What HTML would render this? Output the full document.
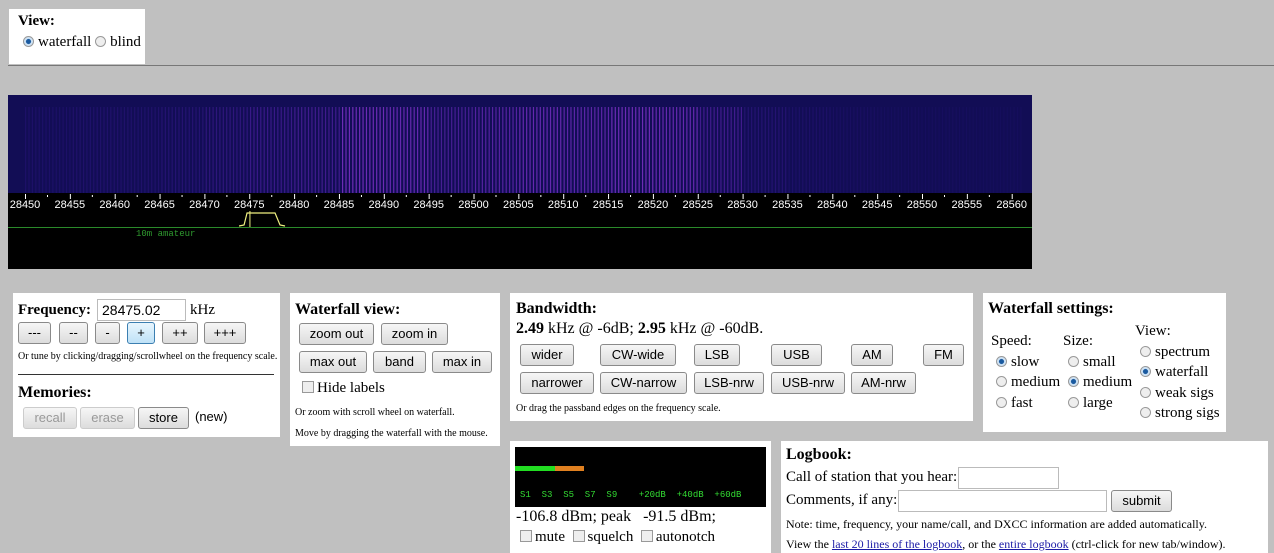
<!DOCTYPE html>
<html><head><meta charset="utf-8">
<style>
body{margin:0;width:1274px;height:553px;background:#c0c0c0;font-family:"Liberation Serif",serif;font-size:15px;color:#000;position:relative;overflow:hidden}
.p{position:absolute;background:#fff;box-sizing:border-box}
.b{position:absolute;height:22px;box-sizing:border-box;border:1px solid #8a8a8a;border-radius:3px;background:linear-gradient(#f6f6f6,#dcdcdc);font-family:"Liberation Sans",sans-serif;font-size:13px;text-align:center;line-height:20px;color:#000}
.t{position:absolute;white-space:nowrap}
.sm{font-size:10px}
.r{display:inline-block;width:11px;height:11px;border-radius:50%;border:1px solid #999;background:#eee;box-sizing:border-box;vertical-align:-1px;margin-right:4px}
.r.on{background:radial-gradient(#1a5aa0 35%,#cfe3f5 45%)}
.c{display:inline-block;width:12px;height:12px;border:1px solid #999;background:#eee;box-sizing:border-box;vertical-align:-1px;margin-right:3px}
input.in{position:absolute;border:1px solid #bbb;height:22px;box-sizing:border-box;font-family:"Liberation Sans",sans-serif;font-size:14px;padding:1px 4px}
</style></head><body>
<div class="p" style="left:9px;top:9px;width:136px;height:55px">
 <div class="t" style="left:9px;top:4px;font-weight:bold">View:</div>
 <div class="t" style="left:14px;top:25px"><span class="r on"></span>waterfall <span class="r"></span>blind</div>
</div>
<div style="position:absolute;left:8px;top:65px;width:1266px;height:1px;background:#777"></div>

<svg id="wf" style="position:absolute;left:8px;top:95px" width="1024" height="174"></svg>

<div class="p" style="left:13px;top:293px;width:267px;height:144px">
 <div class="t" style="left:5px;top:9px;font-weight:bold;font-size:15px">Frequency:</div>
 <input class="in" value="28475.02" style="left:84px;top:6px;width:89px">
 <div class="t" style="left:177px;top:9px">kHz</div>
 <div class="b" style="left:5px;top:29px;width:33px">---</div>
 <div class="b" style="left:46px;top:29px;width:29px">--</div>
 <div class="b" style="left:82px;top:29px;width:25px">-</div>
 <div class="b" style="left:114px;top:29px;width:28px;border-color:#3c7fb1;background:linear-gradient(#e8f5fd,#bfe2f7)">+</div>
 <div class="b" style="left:149px;top:29px;width:36px">++</div>
 <div class="b" style="left:191px;top:29px;width:42px">+++</div>
 <div class="t sm" style="left:5px;top:58px">Or tune by clicking/dragging/scrollwheel on the frequency scale.</div>
 <div style="position:absolute;left:5px;top:81px;width:256px;height:1px;background:#333"></div>
 <div class="t" style="left:5px;top:91px;font-weight:bold;font-size:16px">Memories:</div>
 <div class="b" style="left:10px;top:114px;width:54px;color:#999;border-color:#ccc">recall</div>
 <div class="b" style="left:67px;top:114px;width:55px;color:#999;border-color:#ccc">erase</div>
 <div class="b" style="left:125px;top:114px;width:51px">store</div>
 <div class="t" style="left:182px;top:116px;font-family:'Liberation Sans',sans-serif;font-size:13px">(new)</div>
</div>

<div class="p" style="left:290px;top:293px;width:210px;height:153px">
 <div class="t" style="left:5px;top:8px;font-weight:bold;font-size:16px">Waterfall view:</div>
 <div class="b" style="left:9px;top:30px;width:75px">zoom out</div>
 <div class="b" style="left:91px;top:30px;width:67px">zoom in</div>
 <div class="b" style="left:9px;top:58px;width:68px">max out</div>
 <div class="b" style="left:83px;top:58px;width:53px">band</div>
 <div class="b" style="left:142px;top:58px;width:60px">max in</div>
 <div class="t" style="left:12px;top:87px"><span class="c"></span>Hide labels</div>
 <div class="t sm" style="left:5px;top:114px">Or zoom with scroll wheel on waterfall.</div>
 <div class="t sm" style="left:5px;top:135px">Move by dragging the waterfall with the mouse.</div>
</div>

<div class="p" style="left:510px;top:293px;width:463px;height:128px">
 <div class="t" style="left:6px;top:7px;font-weight:bold;font-size:16px">Bandwidth:</div>
 <div class="t" style="left:6px;top:27px;font-size:16px"><b>2.49</b> kHz @ -6dB; <b>2.95</b> kHz @ -60dB.</div>
 <div class="b" style="left:10px;top:51px;width:54px">wider</div>
 <div class="b" style="left:90px;top:51px;width:76px">CW-wide</div>
 <div class="b" style="left:184px;top:51px;width:46px">LSB</div>
 <div class="b" style="left:261px;top:51px;width:51px">USB</div>
 <div class="b" style="left:341px;top:51px;width:42px">AM</div>
 <div class="b" style="left:413px;top:51px;width:41px">FM</div>
 <div class="b" style="left:10px;top:79px;width:74px">narrower</div>
 <div class="b" style="left:90px;top:79px;width:87px">CW-narrow</div>
 <div class="b" style="left:184px;top:79px;width:70px">LSB-nrw</div>
 <div class="b" style="left:261px;top:79px;width:74px">USB-nrw</div>
 <div class="b" style="left:341px;top:79px;width:65px">AM-nrw</div>
 <div class="t sm" style="left:6px;top:110px">Or drag the passband edges on the frequency scale.</div>
</div>

<div class="p" style="left:983px;top:293px;width:243px;height:139px">
 <div class="t" style="left:5px;top:7px;font-weight:bold;font-size:16px">Waterfall settings:</div>
 <div class="t" style="left:8px;top:40px">Speed:</div>
 <div class="t" style="left:13px;top:61px"><span class="r on"></span>slow</div>
 <div class="t" style="left:13px;top:81px"><span class="r"></span>medium</div>
 <div class="t" style="left:13px;top:102px"><span class="r"></span>fast</div>
 <div class="t" style="left:80px;top:40px">Size:</div>
 <div class="t" style="left:85px;top:61px"><span class="r"></span>small</div>
 <div class="t" style="left:85px;top:81px"><span class="r on"></span>medium</div>
 <div class="t" style="left:85px;top:102px"><span class="r"></span>large</div>
 <div class="t" style="left:152px;top:30px">View:</div>
 <div class="t" style="left:157px;top:51px"><span class="r"></span>spectrum</div>
 <div class="t" style="left:157px;top:71px"><span class="r on"></span>waterfall</div>
 <div class="t" style="left:157px;top:92px"><span class="r"></span>weak sigs</div>
 <div class="t" style="left:157px;top:112px"><span class="r"></span>strong sigs</div>
</div>

<div class="p" style="left:510px;top:441px;width:261px;height:112px">
 <div style="position:absolute;left:5px;top:6px;width:251px;height:60px;background:#000">
  <div style="position:absolute;left:0;top:19px;width:40px;height:5px;background:#22dd22"></div>
  <div style="position:absolute;left:40px;top:19px;width:29px;height:5px;background:#e08020"></div>
  <div class="t" style="left:5px;top:43px;color:#33dd33;font-family:'Liberation Mono',monospace;font-size:9px">S1&nbsp;&nbsp;S3&nbsp;&nbsp;S5&nbsp;&nbsp;S7&nbsp;&nbsp;S9&nbsp;&nbsp;&nbsp;&nbsp;+20dB&nbsp;&nbsp;+40dB&nbsp;&nbsp;+60dB</div>
 </div>
 <div class="t" style="left:6px;top:67px;font-size:16px">-106.8 dBm; peak&nbsp;&nbsp; -91.5 dBm;</div>
 <div class="t" style="left:10px;top:88px"><span class="c"></span>mute&nbsp; <span class="c"></span>squelch&nbsp; <span class="c"></span>autonotch</div>
</div>

<div class="p" style="left:781px;top:441px;width:487px;height:112px">
 <div class="t" style="left:5px;top:5px;font-weight:bold;font-size:16px">Logbook:</div>
 <div class="t" style="left:5px;top:28px">Call of station that you hear:</div>
 <input class="in" style="left:177px;top:26px;width:101px">
 <div class="t" style="left:5px;top:51px">Comments, if any:</div>
 <input class="in" style="left:117px;top:49px;width:209px">
 <div class="b" style="left:330px;top:49px;width:61px">submit</div>
 <div class="t" style="left:5px;top:76px;font-size:12px">Note: time, frequency, your name/call, and DXCC information are added automatically.</div>
 <div class="t" style="left:5px;top:96px;font-size:12px">View the <u style="color:#1a1aa6">last 20 lines of the logbook</u>, or the <u style="color:#1a1aa6">entire logbook</u> (ctrl-click for new tab/window).</div>
</div>

<script>
const ticks=[28450,28455,28460,28465,28470,28475,28480,28485,28490,28495,28500,28505,28510,28515,28520,28525,28530,28535,28540,28545,28550,28555,28560];
const segStart=[28450,28455,28460,28465,28470,28475,28480,28485,28490,28495,28500,28505,28510,28515,28520,28525,28530,28535,28540,28545,28550,28555];
const segLevel=[0.2,0.25,0.25,0.3,0.4,0.5,0.55,0.85,0.8,0.6,0.7,0.8,0.75,0.85,0.8,0.55,0.3,0.2,0.15,0.1,0.1,0.08];
const tuneFreq=28475.02, bwLow=-0.6, bwHigh=3.3;
const NS='http://www.w3.org/2000/svg';
const svg=document.getElementById('wf');
const fx=f=>17+(f-28450)*8.97;
function mk(t,a){const e=document.createElementNS(NS,t);for(const k in a)e.setAttribute(k,a[k]);svg.appendChild(e);return e;}
let bg=mk('rect',{x:0,y:0,width:1024,height:174,fill:'#000'});


let sp=mk('rect',{x:0,y:0,width:1024,height:98,fill:'#120d55'});


for(let f=28450;f<28561;f+=0.38){
  let i=Math.min(segLevel.length-1,Math.floor((f-28450)/5));
  let lv=segLevel[i];
  let ln=mk('rect',{x:fx(f),y:12,width:1.2,height:86,fill:'rgb('+Math.round(70+120*lv)+','+Math.round(30+40*lv)+','+Math.round(200+55*lv)+')',opacity:(lv*0.7).toFixed(2)});
  
  
}
ticks.forEach(t=>{
  let x=fx(t);
  let tk=mk('rect',{x:x,y:99,width:1,height:5,fill:'#fff'});
  
  
  if(t<28560) mk('rect',{x:x+22,y:100,width:1,height:2,fill:'#fff'});
  let tx=mk('text',{x:x,y:113,fill:'#fff','font-size':11,'text-anchor':'middle','font-family':'Liberation Sans, sans-serif'});
  tx.textContent=t;
  
  
});
let gl=mk('rect',{x:0,y:132,width:1024,height:1,fill:'#2a8a2a'});


let bt=mk('text',{x:128,y:141,fill:'#2f9a2f','font-size':9,'font-family':'Liberation Mono, monospace'});bt.textContent='10m amateur';


let a=fx(tuneFreq+bwLow),b=fx(tuneFreq+bwHigh);
let pb=mk('polyline',{points:[a-5,131,a,130,a+3,118,b-4,118,b+1,130,b+6,131].join(' '),fill:'none',stroke:'#f0f080','stroke-width':1.2});


let cl=mk('rect',{x:fx(tuneFreq),y:116,width:1,height:16,fill:'#f0f080'});


</script>
</body></html>
